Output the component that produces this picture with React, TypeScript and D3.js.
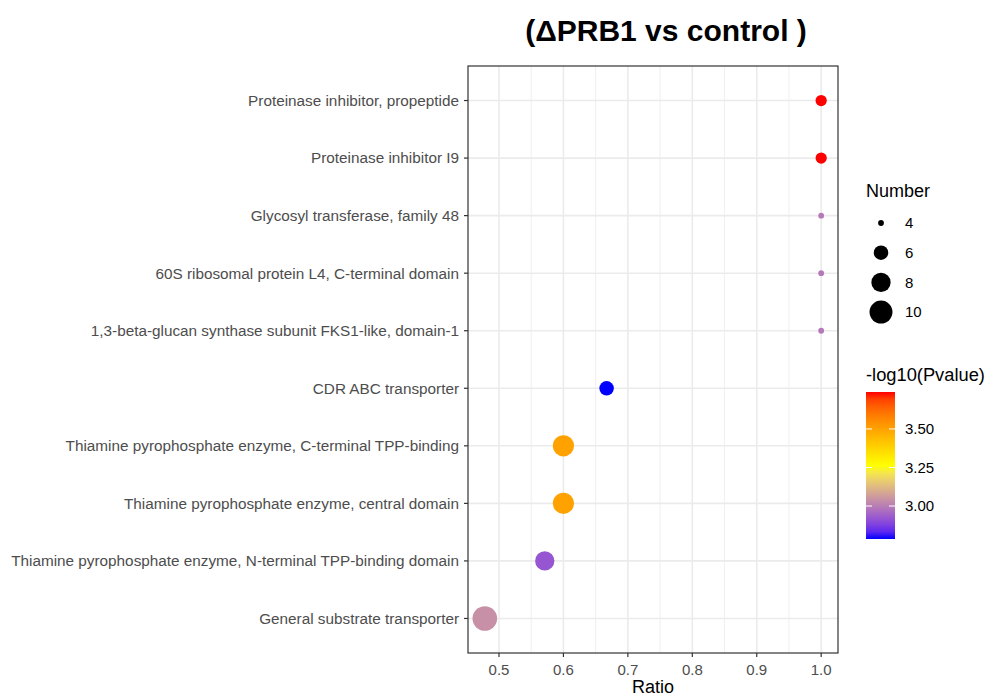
import React from "react";
import * as d3 from "d3";

// Enriched domains, listed top to bottom
const terms = [
  "Proteinase inhibitor, propeptide",
  "Proteinase inhibitor I9",
  "Glycosyl transferase, family 48",
  "60S ribosomal protein L4, C-terminal domain",
  "1,3-beta-glucan synthase subunit FKS1-like, domain-1",
  "CDR ABC transporter",
  "Thiamine pyrophosphate enzyme, C-terminal TPP-binding",
  "Thiamine pyrophosphate enzyme, central domain",
  "Thiamine pyrophosphate enzyme, N-terminal TPP-binding domain",
  "General substrate transporter",
];
const ratios = [1.0, 1.0, 1.0, 1.0, 1.0, 0.667, 0.6, 0.6, 0.571, 0.478];
const numbers = [5, 5, 4, 4, 4, 6, 9, 9, 8, 11];
const negLogP = [3.74, 3.74, 2.99, 2.99, 2.99, 2.786, 3.5, 3.5, 2.92, 3.04];

const xTicks = [0.5, 0.6, 0.7, 0.8, 0.9, 1.0];
const xMinor = [0.55, 0.65, 0.75, 0.85, 0.95];
const sizeBreaks = [4, 6, 8, 10];
const colorBreaks = [3.0, 3.25, 3.5];

const W = 988;
const H = 698;
const panel = { left: 468, right: 838, top: 66, bottom: 653 };
const textColor = "#4D4D4D";
const font = "'Liberation Sans', Arial, Helvetica, sans-serif";

export default function App() {
  const xLo = d3.min(ratios)!;
  const xHi = d3.max(ratios)!;
  const pad = (xHi - xLo) * 0.05;
  const x = d3.scaleLinear().domain([xLo - pad, xHi + pad]).range([panel.left, panel.right]);

  const n = terms.length;
  const y = d3
    .scaleLinear()
    .domain([1 - 0.6, n + 0.6])
    .range([panel.top, panel.bottom]);
  const yPos = (i: number) => y(i + 1);

  // ggplot-like area scaling of point size
  const nMin = d3.min(numbers)!;
  const nMax = d3.max(numbers)!;
  const area = d3.scaleLinear().domain([nMin, nMax]).range([1, 36]);
  const rad = d3.scaleLinear().domain([1, 6]).range([2.9, 12.3]);
  const r = (v: number) => rad(Math.sqrt(area(v)));

  const cLo = d3.min(negLogP)!;
  const cHi = d3.max(negLogP)!;
  const cMid = (cLo + cHi) / 2;
  const color = d3
    .scaleLinear<string>()
    .domain([cLo, cMid, cHi])
    .range(["blue", "yellow", "red"])
    .interpolate(d3.interpolateLab);

  // colour bar geometry
  const bar = { x: 866, y: 392, w: 29, h: 147 };
  const cy = d3.scaleLinear().domain([cLo, cHi]).range([bar.y + bar.h, bar.y]);
  const stops = d3.range(0, 1.0001, 0.05).map((t) => ({
    t,
    c: color(cLo + t * (cHi - cLo)),
  }));

  return (
    <svg width={W} height={H} style={{ position: "absolute", left: 0, top: 0, fontFamily: font }}>
      <defs>
        <linearGradient id="cbar" x1="0" y1="1" x2="0" y2="0">
          {stops.map((s) => (
            <stop key={s.t} offset={s.t} stopColor={s.c} />
          ))}
        </linearGradient>
      </defs>
      <rect x={0} y={0} width={W} height={H} fill="white" />

      {/* title */}
      <text x={666} y={41} textAnchor="middle" fontSize={30} fontWeight="bold" fill="black">
        (ΔPRB1 vs control )
      </text>

      {/* panel grid */}
      <rect x={panel.left} y={panel.top} width={panel.right - panel.left} height={panel.bottom - panel.top} fill="white" />
      {xMinor.map((v) => (
        <line key={"mn" + v} x1={x(v)} x2={x(v)} y1={panel.top} y2={panel.bottom} stroke="#EBEBEB" strokeWidth={0.8} />
      ))}
      {xTicks.map((v) => (
        <line key={"mj" + v} x1={x(v)} x2={x(v)} y1={panel.top} y2={panel.bottom} stroke="#EBEBEB" strokeWidth={1.6} />
      ))}
      {terms.map((t, i) => (
        <line key={"hg" + i} x1={panel.left} x2={panel.right} y1={yPos(i)} y2={yPos(i)} stroke="#EBEBEB" strokeWidth={1.6} />
      ))}

      {/* points */}
      {terms.map((t, i) => (
        <circle key={"pt" + i} cx={x(ratios[i])} cy={yPos(i)} r={r(numbers[i])} fill={color(negLogP[i])} />
      ))}

      <rect
        x={panel.left}
        y={panel.top}
        width={panel.right - panel.left}
        height={panel.bottom - panel.top}
        fill="none"
        stroke="#333333"
        strokeWidth={1.2}
      />

      {/* y axis */}
      {terms.map((t, i) => (
        <g key={"yl" + i}>
          <line x1={panel.left - 4} x2={panel.left} y1={yPos(i)} y2={yPos(i)} stroke="#333333" strokeWidth={1.2} />
          <text x={panel.left - 9} y={yPos(i)} dy="0.35em" textAnchor="end" fontSize={15.3} fill={textColor}>
            {t}
          </text>
        </g>
      ))}

      {/* x axis */}
      {xTicks.map((v) => (
        <g key={"xl" + v}>
          <line x1={x(v)} x2={x(v)} y1={panel.bottom} y2={panel.bottom + 4} stroke="#333333" strokeWidth={1.2} />
          <text x={x(v)} y={panel.bottom + 22} textAnchor="middle" fontSize={15} fill={textColor}>
            {d3.format(".1f")(v)}
          </text>
        </g>
      ))}
      <text x={(panel.left + panel.right) / 2} y={693} textAnchor="middle" fontSize={18} fill="black">
        Ratio
      </text>

      {/* size legend */}
      <text x={866} y={197} fontSize={18} fill="black">
        Number
      </text>
      {sizeBreaks.map((v, k) => {
        const ky = 223 + k * 29.7;
        return (
          <g key={"sl" + v}>
            <circle cx={881} cy={ky} r={r(v)} fill="black" />
            <text x={905} y={ky} dy="0.35em" fontSize={15} fill="black">
              {v}
            </text>
          </g>
        );
      })}

      {/* colour legend */}
      <text x={866} y={381} fontSize={18.3} fill="black">
        -log10(Pvalue)
      </text>
      <rect x={bar.x} y={bar.y} width={bar.w} height={bar.h} fill="url(#cbar)" />
      {colorBreaks.map((v) => (
        <g key={"cl" + v}>
          <line x1={bar.x} x2={bar.x + 6} y1={cy(v)} y2={cy(v)} stroke="white" strokeWidth={1} />
          <line x1={bar.x + bar.w - 6} x2={bar.x + bar.w} y1={cy(v)} y2={cy(v)} stroke="white" strokeWidth={1} />
          <text x={905} y={cy(v)} dy="0.35em" fontSize={15} fill="black">
            {d3.format(".2f")(v)}
          </text>
        </g>
      ))}
    </svg>
  );
}
